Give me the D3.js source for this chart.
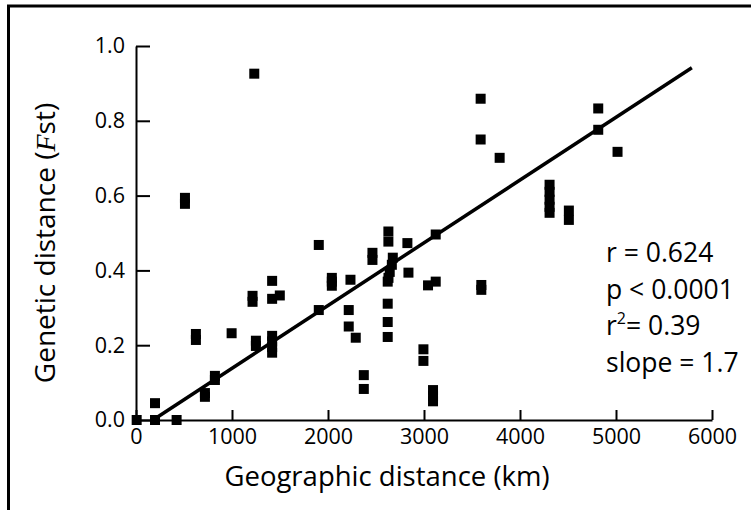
<!DOCTYPE html>
<html>
<head>
<meta charset="utf-8">
<script src="https://cdn.jsdelivr.net/npm/d3@7"></script>
<style>
  body { margin: 0; background: #fff; }
  svg text { font-family: "Open Sans", sans-serif; fill: #000; }
</style>
</head>
<body>
<script>
// geographic distance (km) vs Fst
var geoKm = [7, 198, 423, 198, 718, 718, 822, 822, 510, 510,
    624, 624, 996, 1232, 1214, 1214, 1249, 1249, 1418, 1418,
    1498, 1418, 1418, 1418, 1418, 1904, 1904, 2040, 2040, 2040,
    2234, 2216, 2216, 2289, 2373, 2373, 2463, 2463, 2629, 2629,
    2675, 2665, 2643, 2630, 2622, 2622, 2622, 2622, 2827, 2838,
    3122, 3042, 3122, 2994, 2994, 3094, 3094, 3094, 3597, 3597,
    3590, 3590, 3788, 4308, 4308, 4308, 4308, 4308, 4509, 4509,
    4815, 4815, 5016];
var fst = [0, 0, 0, 0.045, 0.072, 0.062, 0.118, 0.107, 0.594, 0.578,
    0.230, 0.214, 0.232, 0.926, 0.332, 0.316, 0.212, 0.198, 0.372, 0.324,
    0.333, 0.225, 0.210, 0.195, 0.180, 0.468, 0.294, 0.380, 0.370, 0.359,
    0.375, 0.294, 0.250, 0.220, 0.120, 0.083, 0.447, 0.428, 0.504, 0.477,
    0.434, 0.415, 0.396, 0.380, 0.370, 0.311, 0.262, 0.222, 0.473, 0.394,
    0.496, 0.360, 0.370, 0.189, 0.158, 0.080, 0.064, 0.050, 0.361, 0.348,
    0.859, 0.750, 0.701, 0.629, 0.610, 0.589, 0.570, 0.554, 0.560, 0.535,
    0.833, 0.776, 0.717];

// fitted regression line end points
var fitX = [177, 5790];
var fitY = [0, 0.942];

var xTicks = [0, 1000, 2000, 3000, 4000, 5000, 6000];
var yTicks = [0, 0.2, 0.4, 0.6, 0.8, 1.0];

var stats = ["r = 0.624", "p < 0.0001", "r2= 0.39", "slope = 1.7"];

var width = 751,
    height = 510;

var x = d3.scaleLinear().domain([0, 6000]).range([136, 712]);
var y = d3.scaleLinear().domain([0, 1]).range([420, 46]);

var svg = d3.select("body").append("svg")
    .attr("width", width)
    .attr("height", height);

// outer frame (runs off the right and bottom of the picture)
svg.append("rect")
    .attr("x", 8.5)
    .attr("y", 6)
    .attr("width", 800)
    .attr("height", 600)
    .attr("fill", "none")
    .attr("stroke", "#000")
    .attr("stroke-width", 3);

var xAxis = svg.append("g")
    .attr("transform", "translate(0," + y(0) + ")")
    .call(d3.axisBottom(x).tickValues(xTicks).tickSize(-10).tickSizeOuter(0).tickPadding(9)
        .tickFormat(d3.format("d")));

var yAxis = svg.append("g")
    .attr("transform", "translate(" + x(0) + ",0)")
    .call(d3.axisLeft(y).tickValues(yTicks).tickSize(-14).tickSizeOuter(0).tickPadding(11)
        .tickFormat(d3.format(".1f")));

[xAxis, yAxis].forEach(function (ax) {
    ax.selectAll("path, line").attr("stroke", "#000").attr("stroke-width", 2);
    ax.selectAll("text").attr("font-size", 21.5).attr("font-family", "Open Sans");
});

// regression line
svg.append("line")
    .attr("x1", x(fitX[0])).attr("y1", y(fitY[0]))
    .attr("x2", x(fitX[1])).attr("y2", y(fitY[1]))
    .attr("stroke", "#000")
    .attr("stroke-width", 3.5);

// points
var size = 10;
svg.selectAll(".pt")
    .data(geoKm)
    .enter().append("rect")
    .attr("class", "pt")
    .attr("x", function (d) { return x(d) - size / 2; })
    .attr("y", function (d, i) { return y(fst[i]) - size / 2; })
    .attr("width", size)
    .attr("height", size)
    .attr("fill", "#000");

// axis titles
svg.append("text")
    .attr("x", 387)
    .attr("y", 486)
    .attr("text-anchor", "middle")
    .attr("font-size", 27.5)
    .text("Geographic distance (km)");

var yt = svg.append("text")
    .attr("transform", "translate(55,243) rotate(-90)")
    .attr("text-anchor", "middle")
    .attr("font-size", 28);
yt.append("tspan").text("Genetic distance (");
yt.append("tspan").attr("font-family", "Liberation Serif").attr("font-style", "italic").text("F");
yt.append("tspan").text("st)");

// stats block
var st = svg.append("g").attr("font-size", 26.5);
stats.forEach(function (s, i) {
    var t = st.append("text")
        .attr("x", 606)
        .attr("y", 262 + i * 36.7);
    if (s.indexOf("r2") === 0) {
        t.append("tspan").text("r");
        t.append("tspan").attr("font-size", 16).attr("dy", -11).text("2");
        t.append("tspan").attr("dy", 11).text(s.slice(2));
    } else {
        t.text(s);
    }
});
</script>
</body>
</html>
